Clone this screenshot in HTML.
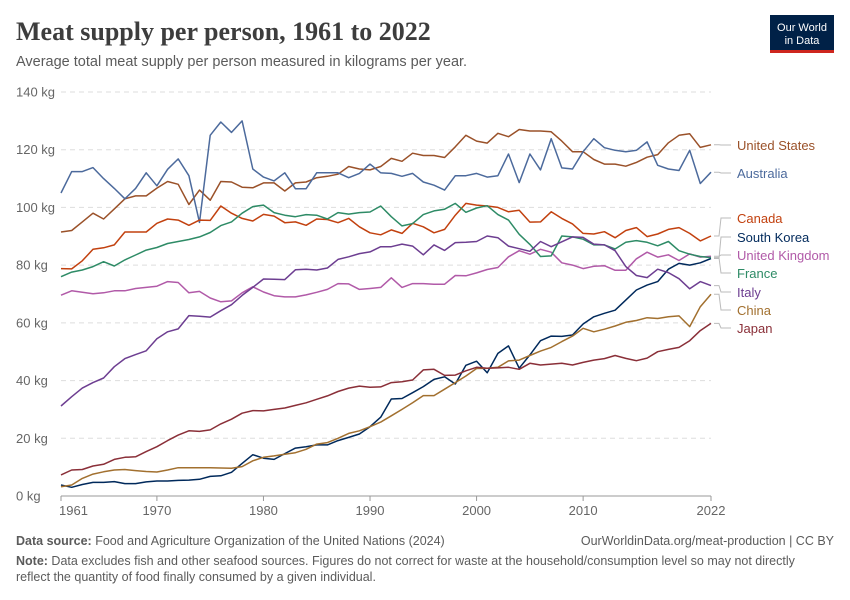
<!DOCTYPE html>
<html><head><meta charset="utf-8">
<style>
body{margin:0;background:#fff;font-family:"Liberation Sans",sans-serif;}
#wrap{position:relative;width:850px;height:600px;overflow:hidden;}
</style></head>
<body>
<div id="wrap">
<svg id="chart" width="850" height="600" style="position:absolute;left:0;top:0">
<text x="16" y="40" font-family="Liberation Serif, serif" font-size="26" fill="#3d3d3d" font-weight="bold">Meat supply per person, 1961 to 2022</text>
<text x="16" y="66" font-size="14.5" fill="#5b5b5b">Average total meat supply per person measured in kilograms per year.</text>
<g>
<rect x="770" y="15" width="64" height="37" fill="#002147"/>
<rect x="770" y="50" width="64" height="3" fill="#ce261e"/>
<text x="802" y="31" font-size="11" fill="#fff" text-anchor="middle">Our World</text>
<text x="802" y="44" font-size="11" fill="#fff" text-anchor="middle">in Data</text>
</g>
<g id="grid"></g><g id="series"></g><g id="labels"></g>
<text x="16" y="545" font-size="12.5" fill="#5b5b5b"><tspan font-weight="bold">Data source:</tspan> Food and Agriculture Organization of the United Nations (2024)</text>
<text x="834" y="545" font-size="12.5" fill="#5b5b5b" text-anchor="end">OurWorldinData.org/meat-production | CC BY</text>
<text x="16" y="565" font-size="12.5" fill="#5b5b5b"><tspan font-weight="bold">Note:</tspan> Data excludes fish and other seafood sources. Figures do not correct for waste at the household/consumption level so may not directly</text>
<text x="16" y="581" font-size="12.5" fill="#5b5b5b">reflect the quantity of food finally consumed by a given individual.</text>
</svg>
</div>
<script>
const startYear = 1961;
const endYear = 2022;
const yTicks = [0,20,40,60,80,100,120,140];
const xTicks = [1961,1970,1980,1990,2000,2010,2022];
const names = ["United States","Australia","Canada","South Korea","United Kingdom","France","Italy","China","Japan"];
const colors = ["#9a5129","#4c6a9c","#c2410f","#00295b","#b15aa8","#2e8b66","#6d3e91","#a2702f","#8a2f38"];
const labelY = [145,173,218,237,255,273,292,310,328];
const usa = [91.5,92,95,98,96,99.5,103,104,104,106.7,109,108,101,106,102.5,109,108.8,107,106.8,108.5,108.5,105.7,108.5,108.8,110.3,110.8,111.5,114.2,113.3,113,114.2,117,116,118.8,118,118,117.3,121,125,123,122.3,125.7,124.5,127,126.5,126.5,126.2,123,119.3,119.3,116.6,115,115,114.3,115.6,117.4,118.3,122.4,125,125.5,120.8,121.7];
const australia = [105,112.4,112.4,113.8,110,106.6,103,106.6,112,107.5,113.2,116.8,111,94.8,125,129.6,126,130,113.3,110.5,109.2,112,106.5,106.5,112,112,112,110.3,111.8,115,112,111.8,110.8,111.8,108.8,107.7,106,111,111,111.8,110.5,111,118.5,108.6,118.5,113,123.8,113.7,113.3,119.3,123.8,120.7,119.8,119.3,119.8,122.7,114.6,113.3,112.8,119.8,108.3,112.2];
const canada = [78.8,78.7,81.5,85.5,86,87,91.5,91.5,91.5,94.5,96,95.6,93.8,95.6,95.5,100.5,98,96.2,95.3,97.6,97,94.7,95,93.8,96,95.8,94.7,96.2,93.3,91.2,90.5,92.2,91,94.5,93.3,91.2,92.4,97.3,101.4,100.8,100.5,100,98.5,99,94.9,95,98.5,96.2,94.3,91,90.8,91.6,89.5,92,93,89.9,90.8,92.4,93,91,88.4,90.1];
const southKorea = [3.8,3,4,4.7,4.7,5,4.3,4.3,4.9,5.2,5.2,5.4,5.5,5.8,6.8,7,8.2,11.3,14.3,13.1,12.7,14.7,16.6,17.1,17.7,17.7,19.2,20.3,21.5,24,27.3,33.6,33.8,35.8,37.9,40.4,41.3,38.8,45.3,46.7,42.7,49.4,52,44.3,48.9,53.8,55.4,55.3,55.8,59.6,62.1,63.3,64.4,67.9,71.4,73.1,74.3,78.6,80.6,80,80.8,82.3];
const unitedKingdom = [69.6,71.1,70.6,70.1,70.4,71.1,71.1,71.9,72.3,72.7,74.3,74,70.4,70.9,68.6,67.3,67.6,70.4,72.5,70.7,69.4,69,69,69.7,70.6,71.6,73.6,73.5,71.6,71.9,72.3,75.6,72.3,73.6,73.6,73.4,73.4,76.4,76.3,77.3,78.5,79.2,82.9,85,83.8,85.5,84.5,80.8,80,78.8,79.6,79.8,78.2,78.2,82.2,84.5,82.8,83.6,81.6,83.9,82.8,83.1];
const france = [76,77.6,78.3,79.5,81.2,79.7,81.8,83.5,85.2,86.1,87.5,88.2,88.9,89.8,91.3,93.7,95,98,100.3,100.8,98.2,97.3,96.8,97.5,97.3,96,98.2,97.7,98.2,98.4,100.5,96.8,93.6,94.4,97.5,98.8,99.4,101.4,98.3,99.8,100.6,97.5,95.6,90.7,87.2,83,83.2,90.1,89.8,89,87,87,85.6,87.9,88.5,87.9,86.7,88.2,85,83.8,83,82.6];
const italy = [31.2,34.4,37.4,39.3,40.9,44.8,47.6,49,50.3,54.5,56.9,57.9,62.5,62.3,62,64.2,66.3,69.5,72.3,75.2,75.1,75,78.4,78.6,78.3,79,82,82.9,84,84.6,86.4,86.4,87.3,86.6,83.6,87,85.1,87.8,87.9,88.2,90.1,89.5,86.6,85.7,84.8,88.2,86.4,88.1,89.8,89.6,87.3,87,85,79.5,76.4,75.7,78.6,77.4,75.3,71.8,74.3,72.9];
const china = [3.2,3.8,6.1,7.6,8.4,9,9.2,8.8,8.5,8.3,9,9.8,9.8,9.8,9.8,9.7,9.6,10.2,12.2,13.4,13.9,14.5,15,16.2,18,18.5,20,21.7,22.6,24,25.6,27.8,30,32.3,34.8,34.8,37,39.3,41.6,44.2,44.3,44.6,46.8,47.1,48.7,50.2,51.5,53.5,55.4,58.1,56.9,57.8,58.9,60.2,60.8,61.8,61.5,62.1,62.4,58.7,65.6,69.9];
const japan = [7.3,9,9.2,10.4,11,12.7,13.4,13.6,15.4,17.1,19.2,21.1,22.6,22.4,22.9,25,26.6,28.7,29.6,29.5,30,30.5,31.4,32.3,33.5,34.7,36.2,37.4,38.1,37.7,37.8,39.3,39.6,40.2,43.7,43.9,41.8,41.9,43.4,44.6,44.3,44.4,44.6,43.9,46,45.4,45.7,46,45.4,46.3,47.1,47.6,48.7,47.7,46.9,47.8,50,50.8,51.5,53.8,57.3,59.8];
const seriesData = [usa,australia,canada,southKorea,unitedKingdom,france,italy,china,japan];

const NS="http://www.w3.org/2000/svg";
const x0=61,x1=711,y0=496,y1=92;
function xs(yr){return x0+(yr-startYear)/(endYear-startYear)*(x1-x0);}
function ys(v){return y0-v/140*(y0-y1);}
function mk(tag,attrs,parent){const e=document.createElementNS(NS,tag);for(const k in attrs)e.setAttribute(k,attrs[k]);parent.appendChild(e);return e;}
const grid=document.getElementById('grid'),ser=document.getElementById('series'),lab=document.getElementById('labels');
yTicks.forEach(t=>{
  if(t>0){const l=mk('line',{x1:x0,x2:x1,y1:ys(t),y2:ys(t),stroke:'#ddd','stroke-dasharray':'5,4'},grid);
  
  }
  const tx=mk('text',{x:16,y:ys(t)+4.5,'font-size':13,fill:'#666'},grid);
  tx.textContent=t+' kg';
  
  
});
const ax=mk('line',{x1:x0,x2:x1,y1:y0,y2:y0,stroke:'#999'},grid);


xTicks.forEach(t=>{
  mk('line',{x1:xs(t),x2:xs(t),y1:y0,y2:y0+5,stroke:'#999'},grid);
  const tx=mk('text',{x:xs(t),y:515,'font-size':13,fill:'#666','text-anchor':t===startYear?'start':'middle'},grid);
  if(t===startYear)tx.setAttribute('x',x0-2);
  tx.textContent=t;
  
  
});
seriesData.forEach((arr,i)=>{
  const pts=arr.map((v,k)=>xs(startYear+k).toFixed(1)+','+ys(v).toFixed(1)).join(' ');
  const p=mk('polyline',{points:pts,fill:'none',stroke:colors[i],'stroke-width':1.5,'stroke-linejoin':'round'},ser);
  
  
  const ly=labelY[i],ey=ys(arr[arr.length-1]);
  mk('path',{d:`M${x1+3},${ey} L${x1+8},${ey} L${x1+10},${ly} L${x1+20},${ly}`,fill:'none',stroke:'#bbb','stroke-width':1},lab);
  const tx=mk('text',{x:737,y:ly+5,'font-size':13,fill:colors[i]},lab);
  tx.textContent=names[i];
  
  
});
</script>
</body></html>
